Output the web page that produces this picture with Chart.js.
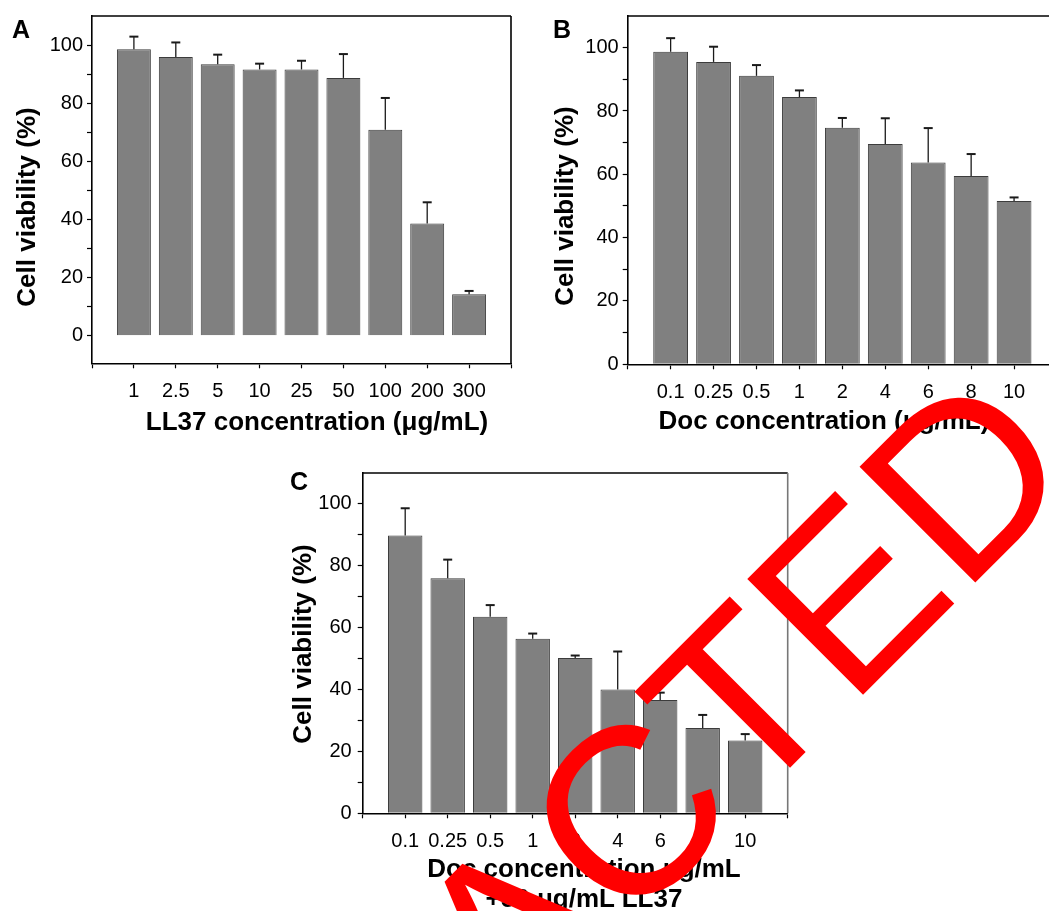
<!DOCTYPE html>
<html>
<head>
<meta charset="utf-8">
<script src="https://cdn.jsdelivr.net/npm/chart.js@4.4.1/dist/chart.umd.min.js"></script>
<style>
    html, body { margin: 0; padding: 0; overflow: hidden; background: #fff; }
    #page { position: relative; width: 1049px; height: 911px; overflow: hidden; font-family: 'Liberation Sans', Arial, sans-serif; color: #000; }
    #page canvas { position: absolute; }
    .txt { position: absolute; font-weight: bold; line-height: 1; white-space: nowrap; }
    .ytitle { font-size: 26px; transform: translate(-50%, -50%) rotate(-90deg); }
    .xtitle { font-size: 26px; width: 600px; text-align: center; }
    .panel { font-size: 25px; }
    #stamp { position: absolute; left: 55px; top: 1301.5px; font-size: 238px; line-height: 1; color: #ff0000; white-space: nowrap; transform-origin: 0 201.5px; transform: rotate(-45deg); z-index: 10; }
</style>
</head>
<body>
<div id="page">
    <canvas id="chartA" width="530" height="445" style="left:0; top:0;"></canvas>
    <canvas id="chartB" width="560" height="445" style="left:530px; top:0;"></canvas>
    <canvas id="chartC" width="530" height="456" style="left:280px; top:455px;"></canvas>

    <div class="txt panel" style="left:12px; top:17px;">A</div>
    <div class="txt panel" style="left:553px; top:17px;">B</div>
    <div class="txt panel" style="left:290px; top:469px;">C</div>

    <div class="txt ytitle" style="left:26px; top:207px;">Cell viability (%)</div>
    <div class="txt ytitle" style="left:564px; top:206px;">Cell viability (%)</div>
    <div class="txt ytitle" style="left:302px; top:644px;">Cell viability (%)</div>

    <div class="txt xtitle" style="left:17px; top:408px;">LL37 concentration (μg/mL)</div>
    <div class="txt xtitle" style="left:524px; top:407px;">Doc concentration (μg/mL)</div>
    <div class="txt xtitle" style="left:284px; top:855px;">Doc concentration μg/mL</div>
    <div class="txt xtitle" style="left:284px; top:885px;">+50 μg/mL LL37</div>

    <div id="stamp">RETRACTED</div>
</div>

<script>
// A: LL37 alone
const ll37Labels = ['1', '2.5', '5', '10', '25', '50', '100', '200', '300'];
const ll37Viability = [98.6, 95.9, 93.4, 91.6, 91.6, 88.7, 70.9, 38.6, 14.3];
const ll37Err = [4.3, 5.0, 3.3, 2.0, 3.0, 8.2, 10.9, 7.3, 1.1];

// B: Doc alone
const docLabels = ['0.1', '0.25', '0.5', '1', '2', '4', '6', '8', '10'];
const docViability = [98.7, 95.5, 91.1, 84.4, 74.7, 69.6, 63.7, 59.5, 51.6];
const docErr = [4.3, 4.8, 3.4, 2.1, 3.1, 8.1, 10.9, 6.9, 1.1];

// C: Doc + LL37
const comboViability = [89.8, 76.0, 63.5, 56.4, 50.2, 40.0, 36.6, 27.6, 23.5];
const comboErr = [8.8, 6.0, 3.8, 1.7, 0.8, 12.3, 2.4, 4.2, 2.1];

Chart.defaults.font.family = "'Liberation Sans', Arial, sans-serif";
Chart.defaults.color = '#000';

// error bars (upper only) + top/right frame lines
const errorBars = {
    id: 'errorBars',
    afterDatasetsDraw(chart, args, opts) {
        const ctx = chart.ctx;
        const ys = chart.scales.y;
        const ds = chart.data.datasets[0];
        const meta = chart.getDatasetMeta(0);
        ctx.save();
        ctx.strokeStyle = '#1a1a1a';
        meta.data.forEach((bar, i) => {
            const m = ds.data[i];
            if (m == null) return;
            const yEnd = ys.getPixelForValue(m + ds.errs[i]);
            ctx.lineWidth = 1.3;
            ctx.beginPath();
            ctx.moveTo(bar.x, bar.y);
            ctx.lineTo(bar.x, yEnd);
            ctx.stroke();
            ctx.lineWidth = 2;
            ctx.beginPath();
            ctx.moveTo(bar.x - 4.5, yEnd);
            ctx.lineTo(bar.x + 4.5, yEnd);
            ctx.stroke();
        });
        const a = chart.chartArea;
        ctx.lineWidth = 1.6;
        ctx.strokeStyle = '#000';
        ctx.beginPath();
        ctx.moveTo(a.left, a.top);
        ctx.lineTo(a.right, a.top);
        ctx.stroke();
        ctx.strokeStyle = opts.rightColor || '#000';
        ctx.beginPath();
        ctx.moveTo(a.right, a.top);
        ctx.lineTo(a.right, a.bottom);
        ctx.stroke();
        ctx.restore();
    }
};

function makePanel(id, labels, values, errs, box) {
    return new Chart(document.getElementById(id), {
        type: 'bar',
        data: {
            labels: [''].concat(labels, ['']),
            datasets: [{
                data: [null].concat(values, [null]),
                errs: [null].concat(errs, [null]),
                backgroundColor: '#808080',
                borderColor: '#3c3c3c',
                borderWidth: 1,
                barPercentage: 0.81,
                categoryPercentage: 1
            }]
        },
        options: {
            responsive: false,
            animation: false,
            devicePixelRatio: 1,
            layout: { padding: { top: box.top, right: box.right, left: 0, bottom: 0 } },
            plugins: {
                legend: { display: false },
                tooltip: { enabled: false },
                errorBars: { rightColor: box.rightColor }
            },
            scales: {
                x: {
                    type: 'category',
                    offset: false,
                    grid: { offset: false, drawOnChartArea: false, drawTicks: true, tickLength: 5, tickColor: '#000', tickWidth: 1.2 },
                    border: { color: '#000', width: 1.6 },
                    ticks: { color: '#000', font: { size: 20 }, padding: 11, maxRotation: 0, autoSkip: false },
                    afterFit: s => { s.height = box.xh; }
                },
                y: {
                    min: box.ymin,
                    max: 110,
                    grid: {
                        drawOnChartArea: false, drawTicks: true, tickLength: 5, tickWidth: 1.2,
                        tickColor: c => (c.tick && c.tick.value > 100) ? 'rgba(0,0,0,0)' : '#000'
                    },
                    border: { color: '#000', width: 1.6 },
                    ticks: {
                        stepSize: 10,
                        includeBounds: false,
                        color: '#000',
                        font: { size: 20 },
                        padding: box.ypad,
                        callback: v => (v % 20 === 0 && v >= 0 && v <= 100) ? String(v) : ''
                    },
                    afterFit: s => { s.width = box.yw; }
                }
            }
        },
        plugins: [errorBars]
    });
}

makePanel('chartA', ll37Labels, ll37Viability, ll37Err,
    { top: 16, right: 19, yw: 92, xh: 81.7, ymin: -9.5, ypad: 4, rightColor: '#000' });
makePanel('chartB', docLabels, docViability, docErr,
    { top: 15.7, right: 33, yw: 97.7, xh: 80.7, ymin: 0, ypad: 4, rightColor: '#000' });
makePanel('chartC', docLabels, comboViability, comboErr,
    { top: 12.3, right: 22.3, yw: 82.7, xh: 97.7, ymin: 0, ypad: 6, rightColor: '#777' });
</script>
</body>
</html>
